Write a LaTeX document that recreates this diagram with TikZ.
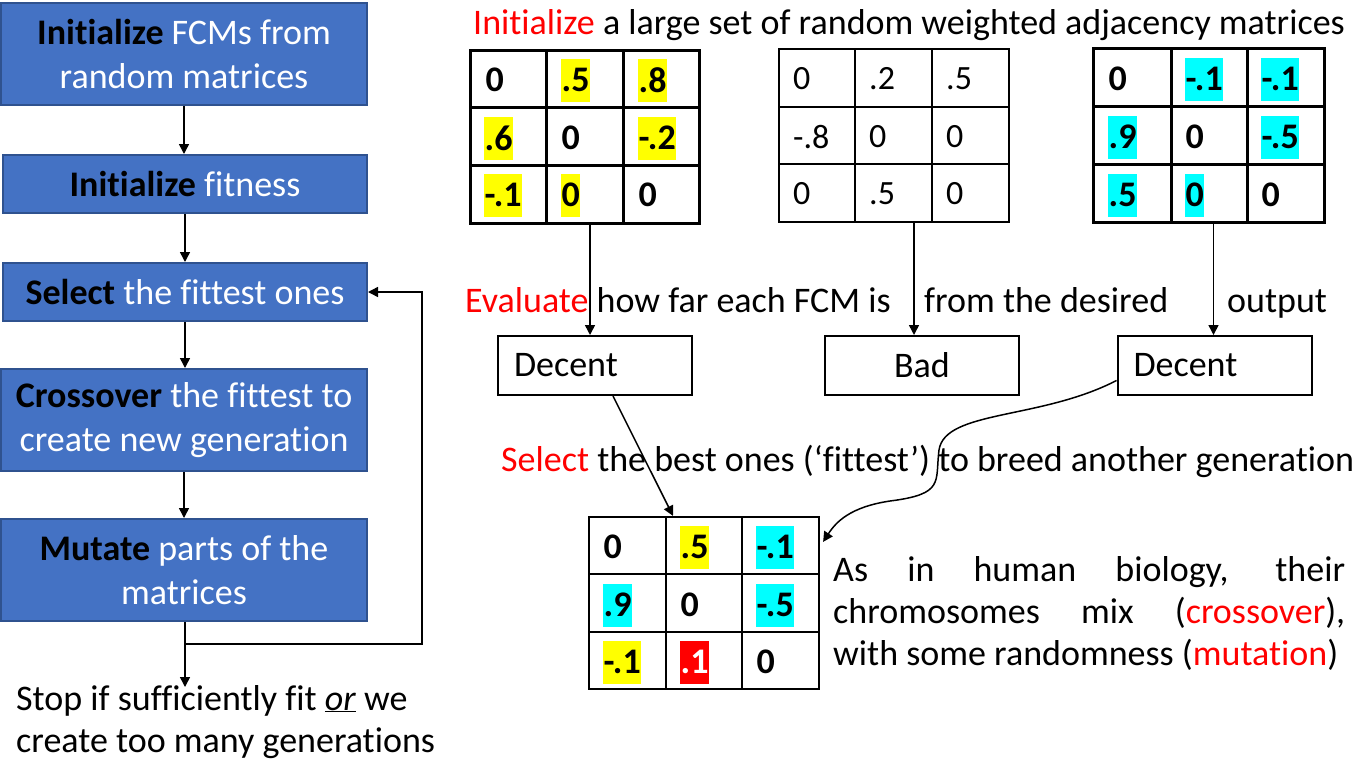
\documentclass[tikz,border=0pt]{standalone}
\usepackage{fontspec}
\setmainfont{Carlito}[Ligatures=NoCommon]
\usetikzlibrary{arrows.meta}
\definecolor{boxblue}{HTML}{4472C4}
\definecolor{boxedge}{HTML}{2F528F}
\definecolor{hlyellow}{HTML}{FFFF00}
\definecolor{hlcyan}{HTML}{00FFFF}
\definecolor{hlred}{HTML}{FF0000}
\definecolor{txtred}{HTML}{FF0000}
\begin{document}
\begin{tikzpicture}[x=1pt,y=-1pt,
  flow/.style={draw=boxedge, line width=2pt, fill=boxblue, text=white,
    font=\fontsize{36}{44}\selectfont, align=center, inner sep=0pt},
  arr/.style={-{Triangle[length=10pt,width=10pt]}, line width=1.5pt},
  txt/.style={font=\fontsize{36}{42}\selectfont, inner sep=0pt, anchor=base west},
  matb/.style={draw, line width=3pt, inner sep=0pt},
  matr/.style={draw, line width=2pt, inner sep=0pt},
  cb/.style={font=\fontsize{36}{40}\selectfont\bfseries, anchor=west, inner xsep=0.5pt, inner ysep=0pt, minimum height=43pt},
  cr/.style={font=\fontsize{34}{38}\selectfont, anchor=west, inner sep=0pt},
  outbox/.style={draw, line width=2pt, minimum width=194pt, minimum height=59pt, inner ysep=0pt,
    font=\fontsize{36}{40}\selectfont}
]
\useasboundingbox (0,0) rectangle (1356,761);

% ---------- left flow chart ----------
\node[flow, minimum width=366pt, minimum height=102pt] (b1) at (184,54)
  {\textbf{\color{black}Initialize} FCMs from\\random matrices};
\node[flow, minimum width=364pt, minimum height=58pt] (b2) at (185,184)
  {\textbf{\color{black}Initialize} fitness};
\node[flow, minimum width=364pt, minimum height=58pt] (b3) at (185,292)
  {\textbf{\color{black}Select} the fittest ones};
\node[flow, minimum width=366pt, minimum height=102pt] (b4) at (184,420)
  {\textbf{\color{black}Crossover} the fittest to\\create new generation};
\node[flow, minimum width=366pt, minimum height=102pt] (b5) at (184,570)
  {\textbf{\color{black}Mutate} parts of the\\matrices};

\draw[arr] (b1.south) -- (b1.south |- b2.north);
\draw[arr] (b2.south) -- (b2.south |- b3.north);
\draw[arr] (b3.south) -- (b3.south |- b4.north);
\draw[arr] (b4.south) -- (b4.south |- b5.north);

\coordinate (j) at (185,644);
\coordinate (fb) at (422,644);
\coordinate (tip) at (185,687);
\draw[arr] (b5.south -| j) -- (tip);
\draw[arr] (j) -- (fb) |- (b3.east);

\node[txt, align=left] (stop) at (16,752)
  {Stop if sufficiently fit \underline{\textit{or}} we\\create too many generations};

% ---------- title ----------
\node[txt] (title) at (473,34)
  {\textcolor{txtred}{Initialize} a large set of random weighted adjacency matrices};

% ---------- matrix 1 ----------
\node[matb, minimum width=229pt, minimum height=173pt] (m1) at (584.5,136.5) {};
\draw[line width=3pt] (546,50) -- (546,223) (623,50) -- (623,223)
  (470,107) -- (699,107) (470,165) -- (699,165);
\node[cb] (m1a) at (485,80) {0};
\node[cb, fill=hlyellow] (m1b) at (561,80) {.5};
\node[cb, fill=hlyellow] (m1c) at (638,80) {.8};
\node[cb, fill=hlyellow] (m1d) at (484,138) {.6};
\node[cb] (m1e) at (561,138) {0};
\node[cb, fill=hlyellow] (m1f) at (638,138) {-.2};
\node[cb, fill=hlyellow] (m1g) at (484,195) {-.1};
\node[cb, fill=hlyellow] (m1h) at (561,195) {0};
\node[cb] (m1i) at (638,195) {0};

% ---------- matrix 2 ----------
\node[matr, minimum width=230pt, minimum height=173pt] (m2) at (894,135.5) {};
\draw[line width=2pt] (855,49) -- (855,222) (932,49) -- (932,222)
  (779,107) -- (1009,107) (779,164) -- (1009,164);
\node[cr] (m2a) at (793,79) {0};
\node[cr] (m2b) at (869,79) {.2};
\node[cr] (m2c) at (946,79) {.5};
\node[cr] (m2d) at (793,137) {-.8};
\node[cr] (m2e) at (869,137) {0};
\node[cr] (m2f) at (946,137) {0};
\node[cr] (m2g) at (793,194) {0};
\node[cr] (m2h) at (869,194) {.5};
\node[cr] (m2i) at (946,194) {0};

% ---------- matrix 3 ----------
\node[matb, minimum width=231pt, minimum height=174pt] (m3) at (1208.5,135) {};
\draw[line width=3pt] (1171,48) -- (1171,222) (1247,48) -- (1247,222)
  (1093,106) -- (1324,106) (1093,164) -- (1324,164);
\node[cb] (m3a) at (1108,79) {0};
\node[cb, fill=hlcyan] (m3b) at (1185,79) {-.1};
\node[cb, fill=hlcyan] (m3c) at (1261,79) {-.1};
\node[cb, fill=hlcyan] (m3d) at (1108,137) {.9};
\node[cb] (m3e) at (1185,137) {0};
\node[cb, fill=hlcyan] (m3f) at (1261,137) {-.5};
\node[cb, fill=hlcyan] (m3g) at (1108,195) {.5};
\node[cb, fill=hlcyan] (m3h) at (1185,195) {0};
\node[cb] (m3i) at (1261,195) {0};

% ---------- evaluate line ----------
\node[txt] (ev1) at (465,312) {\textcolor{txtred}{Evaluate} how far each FCM is};
\node[txt] (ev2) at (924,312) {from the desired};
\node[txt] (ev3) at (1227,312) {output};

\node[outbox, text width=162pt, inner xsep=16pt, align=left] (d1) at (595,365.5) {Decent};
\node[outbox, align=center] (bad) at (922,365.5) {Bad};
\node[outbox, text width=162pt, inner xsep=16pt, align=left] (d2) at (1214.5,365.5) {Decent};

\draw[arr] ([xshift=5.5pt]m1.south) -- ([xshift=-5pt]d1.north);
\draw[arr] ([xshift=20pt]m2.south) -- ([xshift=-8pt]bad.north);
\draw[arr] ([xshift=5pt]m3.south) -- ([xshift=-1pt]d2.north);

% ---------- select line ----------
\node[txt] (sel) at (501,471)
  {\textcolor{txtred}{Select} the best ones (‘fittest’) to breed another generation};

% ---------- bottom matrix ----------
\node[draw, line width=2.2pt, inner sep=0pt, minimum width=230pt, minimum height=172pt] (mb) at (704,603) {};
\draw[line width=2.2pt] (666,517) -- (666,689) (742,517) -- (742,689)
  (589,574) -- (819,574) (589,632) -- (819,632);
\node[cb] (mba) at (603,547) {0};
\node[cb, fill=hlyellow] (mbb) at (680,547) {.5};
\node[cb, fill=hlcyan] (mbc) at (756,547) {-.1};
\node[cb, fill=hlcyan] (mbd) at (603,605) {.9};
\node[cb] (mbe) at (680,605) {0};
\node[cb, fill=hlcyan] (mbf) at (756,605) {-.5};
\node[cb, fill=hlyellow] (mbg) at (603,662) {-.1};
\node[cb, fill=hlred, text=white] (mbh) at (680,662) {.1};
\node[cb] (mbi) at (756,662) {0};

\draw[arr] ([xshift=18pt]d1.south) -- ([xshift=-31pt]mb.north);
\draw[arr] ([yshift=-15pt]d2.west) .. controls (1040,420) and (945,410) .. (939,450)
  .. controls (935,482) and (945,494) .. (890,501)
  .. controls (850,507) and (836,522) .. ([xshift=3pt,yshift=-26pt]mb.north east);

% ---------- paragraph ----------
\node[inner sep=0pt, anchor=base west] (para) at (833,581)
  {\parbox[t]{512pt}{\fontsize{36}{42}\selectfont As in human biology, their\linebreak
   chromosomes mix (\textcolor{txtred}{crossover}),\linebreak
   with some randomness (\textcolor{txtred}{mutation})}};
\end{tikzpicture}
\end{document}
